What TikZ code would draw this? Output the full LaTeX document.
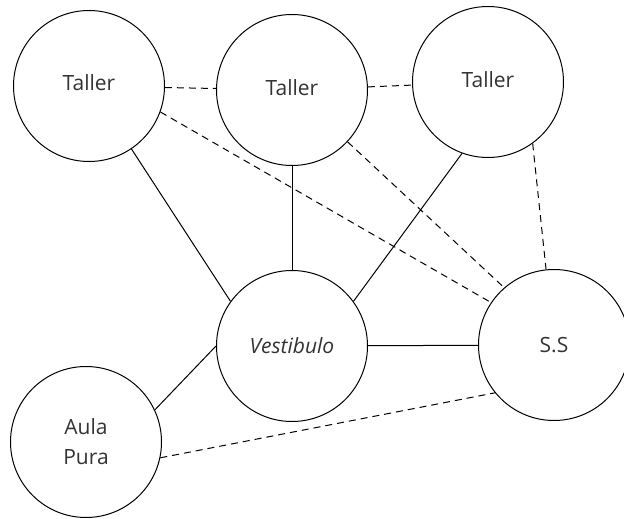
\documentclass[tikz,border=0pt]{standalone}
\usepackage{fontspec}
\setmainfont{Open Sans}
\usepackage{tikz}
\usetikzlibrary{calc}
\definecolor{TextGray}{HTML}{333333}

\begin{document}
\begin{tikzpicture}[x=1pt,y=-1pt,
   room/.style={circle,draw,line width=1pt,minimum size=151pt,inner sep=0pt,
     font=\fontsize{21}{26}\selectfont,text=TextGray},
   link/.style={line width=1pt},
   weak/.style={line width=1pt,dash pattern=on 7pt off 5pt}]
   \useasboundingbox (0,0) rectangle (624,519);

   \node[room] (t1) at (89,86) {\raisebox{6pt}{Taller}};
   \node[room] (t2) at (292,90) {\raisebox{5pt}{Taller}};
   \node[room] (t3) at (488,82) {\raisebox{4pt}{Taller}};
   \node[room] (v) at (292,346) {\itshape Vestibulo};
   \node[room] (ss) at (554,345) {S.S};
   \node[room,align=center] (ap) at (86,442) {Aula\\[4pt]Pura};

   % solid connections
   \draw[link] (t1.-56) -- (v.144);
   \draw[link] (t2) -- (v);
   \draw[link] (t3.-110) -- (v.36);
   \draw[link] (v) -- (ss);
   \draw[link] (v.180) -- (ap.25);

   % dashed connections
   \draw[weak] (t1) -- (t2);
   \draw[weak] (t2) -- (t3);
   \draw[weak] (t1.-20) -- (ss.146);
   \draw[weak] (t2.-43) -- (ss.131);
   \draw[weak] (t3.-54) -- (ss.96);
   \draw[weak] (ap.-12) -- (ss.219);
  \end{tikzpicture}
\end{document}
